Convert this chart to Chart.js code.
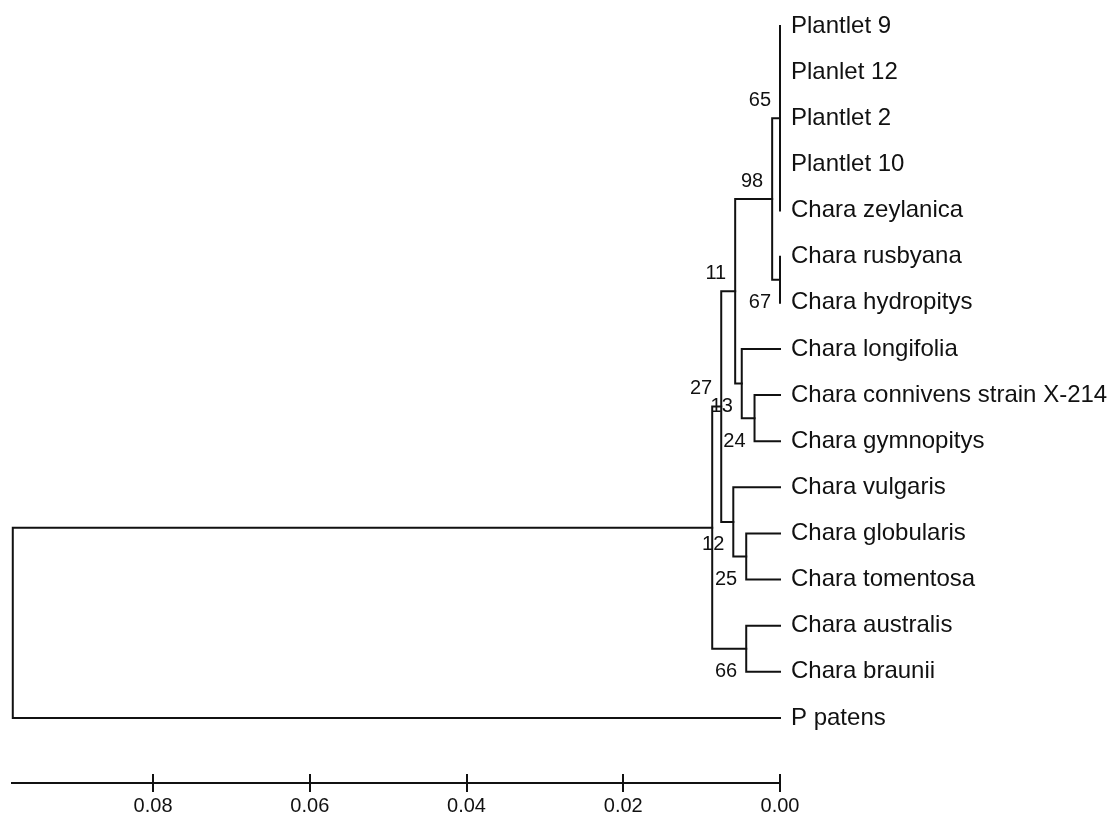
<!DOCTYPE html>
<html>
<head>
<meta charset="utf-8">
<script src="https://cdn.jsdelivr.net/npm/chart.js@4"></script>
<style>
html,body{margin:0;padding:0;background:#fff;}
#wrap{width:1114px;height:815px;position:relative;}
</style>
</head>
<body>
<div id="wrap"><canvas id="c"></canvas></div>
<script>
// ---- data ----
const leafNames = ['Plantlet 9','Planlet 12','Plantlet 2','Plantlet 10','Chara zeylanica',
  'Chara rusbyana','Chara hydropitys','Chara longifolia','Chara connivens strain X-214',
  'Chara gymnopitys','Chara vulgaris','Chara globularis','Chara tomentosa',
  'Chara australis','Chara braunii','P patens'];
const leafHeights = [0,0,0,0,0,0,0,0,0,0,0,0,0,0,0,0];
// internal nodes (children are leaf indices or node ids)
const nodeIds      = ['A','C','B','N24','N13','N11','N25','N12','N27','N66','IN','ROOT'];
const nodeChildren = [[0,1,2,3,4],[5,6],['A','C'],[8,9],[7,'N24'],['B','N13'],
                      [11,12],[10,'N25'],['N11','N12'],[13,14],['N27','N66'],['IN',15]];
const nodeHeights  = [0.0000,0.0000,0.0010,0.00325,0.00488,0.00572,
                      0.00431,0.00596,0.00750,0.00431,0.00865,0.0979];
const bootstrap    = [65,67,98,24,13,11,25,12,27,66,null,null];
const tickValues   = [0,0.02,0.04,0.06,0.08];

// label placement (above / below the node's stem)
const bootSide = ['above','below','above','below','below','above','below','below','above','below',null,null];

// ---- build tree geometry from the data ----
const idx = {}; nodeIds.forEach((id,k)=>idx[id]=k);
const yCache = {};
function yOf(c){
  if (typeof c === 'number') return c;
  if (yCache[c] !== undefined) return yCache[c];
  const kids = nodeChildren[idx[c]];
  const ys = kids.map(yOf);
  const v = (Math.min(...ys) + Math.max(...ys)) / 2;
  yCache[c] = v; return v;
}
function hOf(c){ return typeof c === 'number' ? leafHeights[c] : nodeHeights[idx[c]]; }

const FONT = '"Liberation Sans", Arial, Helvetica, sans-serif';
const INK = '#111';
const datasets = [];
function addPath(pts){
  datasets.push({data: pts, showLine: true, borderColor: INK, borderWidth: 2,
    pointRadius: 0, pointHoverRadius: 0, fill: false, tension: 0, clip: false,
    borderJoinStyle: 'miter', borderCapStyle: 'square'});
}
nodeIds.forEach((id,k)=>{
  const kids = nodeChildren[k];
  const h = nodeHeights[k];
  const ys = kids.map(yOf);
  const first = kids[0], last = kids[kids.length-1];
  addPath([{x:hOf(first),y:ys[0]},{x:h,y:ys[0]},{x:h,y:ys[ys.length-1]},{x:hOf(last),y:ys[ys.length-1]}]);
  for (let j=1;j<kids.length-1;j++){
    addPath([{x:h,y:ys[j]},{x:hOf(kids[j]),y:ys[j]}]);
  }
});

const bootPlugin = {
  id: 'boot',
  afterDatasetsDraw(chart){
    const {ctx, scales:{x, y}} = chart;
    ctx.save();
    ctx.fillStyle = INK;
    ctx.font = '20px ' + FONT;
    ctx.textAlign = 'right';
    ctx.textBaseline = 'middle';
    nodeIds.forEach((id,k)=>{
      if (bootstrap[k] === null) return;
      const px = x.getPixelForValue(nodeHeights[k]);
      const py = y.getPixelForValue(yOf(id));
      const dy = bootSide[k] === 'above' ? -18 : 23;
      ctx.fillText(String(bootstrap[k]), px - 9, py + dy);
    });
    // upper half of the axis tick marks
    ctx.strokeStyle = INK; ctx.lineWidth = 2;
    tickValues.forEach(v=>{
      const px = Math.round(x.getPixelForValue(v));
      ctx.beginPath();
      ctx.moveTo(px, x.top - 9); ctx.lineTo(px, x.top);
      ctx.stroke();
    });
    ctx.restore();
  }
};

new Chart(document.getElementById('c'), {
  type: 'scatter',
  data: { datasets },
  options: {
    responsive: true, maintainAspectRatio: false, animation: false,
    layout: { padding: { top: 10, left: 12, right: 0, bottom: 0 } },
    plugins: { legend: { display: false }, tooltip: { enabled: false } },
    events: [],
    scales: {
      x: {
        type: 'linear', position: 'bottom', reverse: true, min: 0, max: 0.098,
        afterBuildTicks: s => { s.ticks = tickValues.map(v => ({ value: v })); },
        afterFit: s => { s.height = 32; s.paddingLeft = 0; s.paddingRight = 0; },
        border: { display: true, color: INK, width: 2 },
        grid: { display: true, drawOnChartArea: false, drawTicks: true, tickLength: 9, color: INK, lineWidth: 2 },
        ticks: { color: INK, padding: 2, maxRotation: 0, autoSkip: false,
                 font: { family: FONT, size: 20 }, callback: v => Number(v).toFixed(2) }
      },
      y: {
        type: 'linear', position: 'right', reverse: true, min: -0.3468, max: 16.409,
        afterBuildTicks: s => { s.ticks = leafNames.map((_, i) => ({ value: i })); },
        afterFit: s => { s.width = 334; s.paddingTop = 0; s.paddingBottom = 0; },
        border: { display: false },
        grid: { display: false, drawTicks: false },
        ticks: { color: INK, padding: 11, autoSkip: false,
                 font: { family: FONT, size: 24 }, callback: v => leafNames[v] }
      }
    }
  },
  plugins: [bootPlugin]
});
</script>
</body>
</html>
